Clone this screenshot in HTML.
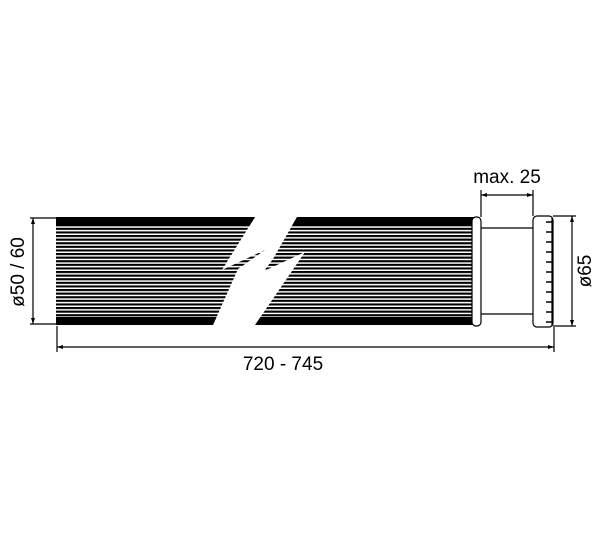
<!DOCTYPE html>
<html><head><style>
html,body{margin:0;padding:0;background:#fff;}
svg{display:block}
text{font-family:"Liberation Sans Narrow","Liberation Sans",sans-serif;font-size:19px;fill:#000}
</style></head><body>
<svg width="600" height="542" viewBox="0 0 600 542" xmlns="http://www.w3.org/2000/svg">
<defs>
<pattern id="st" patternUnits="userSpaceOnUse" width="10" height="3.6" y="1">
<rect width="10" height="3.6" fill="#fff"/>
<rect width="10" height="2.1" fill="#000"/>
</pattern>
<clipPath id="cl">
<polygon points="56,217 255,217 222,270 265,250 238,269 213,325 56,325"/>
<polygon points="297,217 474,217 474,325 255,325 305,252 264,271 273,259"/>
</clipPath>
</defs>
<g clip-path="url(#cl)">
<rect x="56" y="217" width="420" height="108" fill="url(#st)"/>
<rect x="56" y="217" width="420" height="8" fill="#000"/>
<rect x="56" y="317" width="420" height="8" fill="#000"/>
</g>
<g stroke="#000" fill="none" stroke-width="1.2">
<rect x="472" y="217" width="9" height="109" rx="4" fill="#fff"/>
<line x1="481" y1="228" x2="533" y2="228"/>
<line x1="481" y1="314" x2="533" y2="314"/>
<rect x="533" y="216" width="20" height="111" rx="4" fill="#fff"/>
<line x1="552" y1="218" x2="552" y2="326"/>
<path d="M546,222h6M546,232h6M546,242h6M546,252h6M546,262h6M546,272h6M546,282h6M546,292h6M546,302h6M546,312h6M546,322h6" stroke-width="1.6"/>
<line x1="30" y1="218" x2="56" y2="218"/>
<line x1="30" y1="324" x2="56" y2="324"/>
<line x1="33" y1="218" x2="33" y2="324"/>
<line x1="57" y1="326" x2="57" y2="352"/>
<line x1="554" y1="327" x2="554" y2="352"/>
<line x1="57" y1="347" x2="554" y2="347"/>
<line x1="481" y1="190" x2="481" y2="217"/>
<line x1="533" y1="190" x2="533" y2="216"/>
<line x1="481" y1="195" x2="533" y2="195"/>
<line x1="553" y1="216" x2="576" y2="216"/>
<line x1="553" y1="326" x2="576" y2="326"/>
<line x1="572" y1="216" x2="572" y2="326"/>
</g>
<g fill="#000">
<path d="M33,218l-2,6h4z M33,324l-2,-6h4z"/>
<path d="M57,347l6,-2v4z M554,347l-6,-2v4z"/>
<path d="M481,195l6,-2v4z M533,195l-6,-2v4z"/>
<path d="M572,216l-2,6h4z M572,326l-2,-6h4z"/>
</g>
<text x="283" y="370" text-anchor="middle">720 - 745</text>
<text x="507" y="183" text-anchor="middle">max. 25</text>
<text transform="translate(24,272) rotate(-90)" text-anchor="middle">ø50 / 60</text>
<text transform="translate(591,271) rotate(-90)" text-anchor="middle">ø65</text>
</svg>
</body></html>
